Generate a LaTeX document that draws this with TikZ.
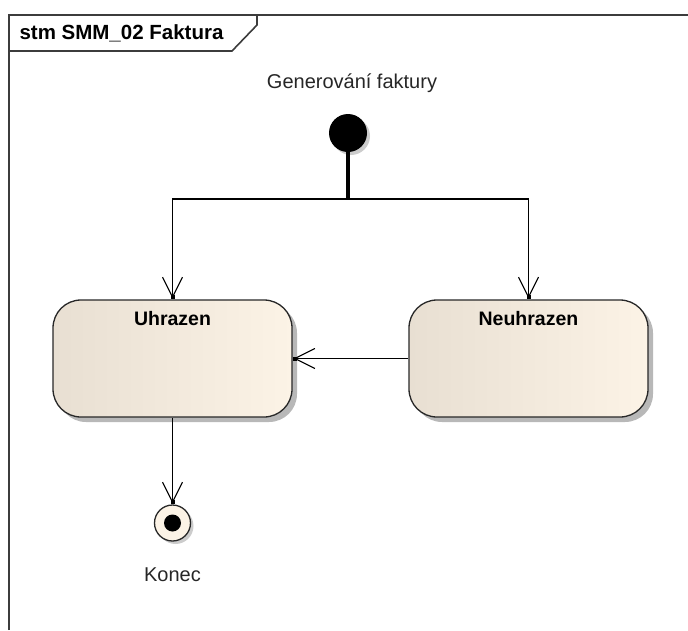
\documentclass[tikz,border=0pt]{standalone}
\usepackage{fontspec}
\setmainfont{Liberation Sans}
\usetikzlibrary{arrows.meta,shadows}
\definecolor{stfillL}{RGB}{232,223,210}
\definecolor{stfillR}{RGB}{252,243,230}
\definecolor{frameC}{RGB}{60,60,60}
\definecolor{edgeC}{RGB}{40,40,40}
\begin{document}
\begin{tikzpicture}[x=1pt,y=-1pt,
  every node/.style={font=\fontsize{20}{23}\selectfont},
  statebox/.style={draw=edgeC, line width=1.3pt, rounded corners=28pt,
    minimum width=239pt, minimum height=117pt, inner sep=0pt,
    left color=stfillL, right color=stfillR,
    drop shadow={shadow xshift=5pt, shadow yshift=-5pt, fill=black!28, opacity=1}},
  statelabel/.style={font=\bfseries\fontsize{19.5}{22}\selectfont, anchor=north, yshift=-8pt},
  trans/.style={draw=black, line width=1.3pt,
    -{Straight Barb[length=20pt,width=20pt,line width=1.1pt,sep=-3pt]Square[length=4pt,width=4pt]}},
  caption/.style={font=\fontsize{20}{23}\selectfont, text=black!85}
]
\useasboundingbox (0,0) rectangle (688,630);
% frame
\draw[frameC, line width=2.2pt] (9,630) -- (9,15) -- (688,15);
\draw[frameC, line width=1.6pt] (9,51) -- (232,51) -- (257,25) -- (257,15);
\node[anchor=west, font=\bfseries\fontsize{20.5}{23}\selectfont] (title) at (16,33) {stm SMM\_02 Faktura};

% initial
\node[caption] (initlbl) at (352,83) {Generování faktury};
\node[circle, fill=black, minimum size=38pt, inner sep=0pt,
      drop shadow={shadow xshift=3pt, shadow yshift=-3pt, fill=black!20, opacity=1}] (init) at (348,133) {};
\coordinate (fork) at (348,199);

% states
\node[statebox, label={[statelabel]north:Uhrazen}] (uhr) at (172.5,358.5) {};
\node[statebox, label={[statelabel]north:Neuhrazen}] (neu) at (528.5,358.5) {};

% final
\node[circle, draw=edgeC, line width=1.3pt, fill=stfillR, minimum size=36pt, inner sep=0pt,
      drop shadow={shadow xshift=3pt, shadow yshift=-3pt, fill=black!20, opacity=1},
      path picture={\fill[black] (path picture bounding box.center) circle (8.5pt);}] (fin) at (172.5,523) {};
\node[caption] (finlbl) at (172.5,575) {Konec};

% transitions
\draw[line width=3.5pt] (init.center) -- (fork);
\draw[trans] (fork) -| (uhr.north);
\draw[trans] (fork) -| (neu.north);
\draw[trans] (neu.west) -- (uhr.east);
\draw[trans] (uhr.south) -- (fin.north);
\end{tikzpicture}
\end{document}
